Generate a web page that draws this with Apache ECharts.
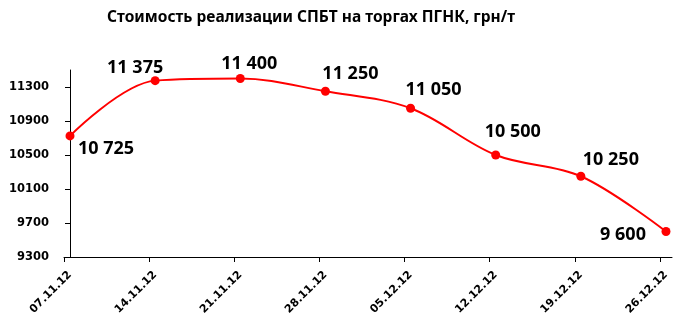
<!DOCTYPE html>
<html>
<head>
<meta charset="utf-8">
<script src="https://cdn.jsdelivr.net/npm/echarts@6/dist/echarts.min.js"></script>
<style>html,body{margin:0;padding:0;background:#fff}#c{width:677px;height:322px}</style>
</head>
<body>
<div id="c"></div>
<script>
const titleText = 'Стоимость реализации СПБТ на торгах ПГНК, грн/т';
const categories = ['07.11.12','14.11.12','21.11.12','28.11.12','05.12.12','12.12.12','19.12.12','26.12.12'];
const prices = [10725, 11375, 11400, 11250, 11050, 10500, 10250, 9600];
const yTicks = [9300, 9700, 10100, 10500, 10900, 11300];

// label placement (style, not data)
const labelOffsets = [[36,13],[-20,-13],[9,-15],[25,-17],[23,-18],[17,-23],[30,-16],[-43,3]];
const xShift = 0.0705; // axis starts slightly before first point
const xTickVals = categories.map((c,i)=>i - xShift);
const xLabelVals = categories.map((c,i)=>i);

const fmt = v => String(v).replace(/\B(?=(\d{3})+(?!\d))/g, ' ');

const chart = echarts.init(document.getElementById('c'), null, {renderer:'canvas'});
chart.setOption({
  animation: false,
  backgroundColor: '#fff',
  title: {
    text: titleText,
    left: 306, top: 5, textAlign: 'center',
    textStyle: {fontFamily: 'Noto Sans', fontWeight: 'bold', fontSize: 15.5, color: '#000'}
  },
  grid: {left: 64, right: 5, top: 70, bottom: 65, containLabel: false},
  xAxis: {
    type: 'value',
    min: -xShift, max: categories.length - 1 + xShift,
    splitLine: {show: false},
    axisLine: {show: true, lineStyle: {color: '#000', width: 1}},
    axisTick: {show: true, length: 5, customValues: xTickVals, lineStyle: {color: '#000'}},
    axisLabel: {
      customValues: xLabelVals, rotate: 45, margin: 16,
      formatter: v => categories[Math.round(v)] || '',
      fontFamily: 'DejaVu Sans', fontWeight: 'bold', fontSize: 11, color: '#000'
    }
  },
  yAxis: {
    type: 'value', min: 9300, max: 11500,
    splitLine: {show: false},
    axisLine: {show: true, lineStyle: {color: '#000', width: 1}},
    axisTick: {show: true, length: 5, customValues: yTicks, lineStyle: {color: '#000'}},
    axisLabel: {
      customValues: yTicks, margin: 15,
      formatter: v => String(v),
      fontFamily: 'DejaVu Sans', fontWeight: 'bold', fontSize: 11.5, color: '#000'
    }
  },
  series: [{
    type: 'line',
    smooth: 0.35,
    data: prices.map((v,i)=>({value:[i, v], label:{offset: labelOffsets[i]}})),
    symbol: 'circle', symbolSize: 9,
    itemStyle: {color: '#ff0000'},
    lineStyle: {color: '#ff0000', width: 2},
    label: {
      show: true, position: 'inside', align: 'center', verticalAlign: 'middle',
      formatter: p => fmt(p.value[1]),
      fontFamily: 'Noto Sans', fontWeight: 'bold', fontSize: 18, color: '#000'
    }
  }]
});
</script>
</body>
</html>
